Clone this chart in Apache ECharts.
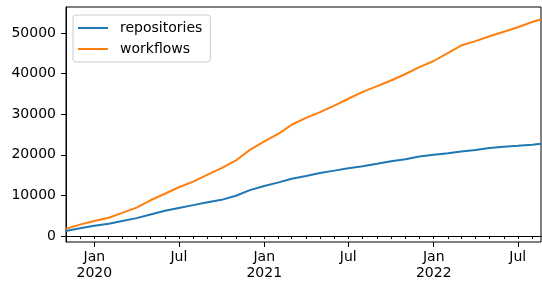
<!DOCTYPE html>
<html>
<head>
<meta charset="utf-8">
<script src="https://cdn.jsdelivr.net/npm/echarts@6/dist/echarts.min.js"></script>
<style>
  html, body { margin: 0; padding: 0; background: #fff; }
  #myChart { width: 542px; height: 281px; }
</style>
</head>
<body>
<div id="myChart"></div>
<script>
// monthly samples
let dates = [
  "2019-11-01", "2019-12-01",
  "2020-01-01", "2020-02-01", "2020-03-01", "2020-04-01", "2020-05-01", "2020-06-01",
  "2020-07-01", "2020-08-01", "2020-09-01", "2020-10-01", "2020-11-01", "2020-12-01",
  "2021-01-01", "2021-02-01", "2021-03-01", "2021-04-01", "2021-05-01", "2021-06-01",
  "2021-07-01", "2021-08-01", "2021-09-01", "2021-10-01", "2021-11-01", "2021-12-01",
  "2022-01-01", "2022-02-01", "2022-03-01", "2022-04-01", "2022-05-01", "2022-06-01",
  "2022-07-01", "2022-08-01", "2022-08-20"
];
let repositories = [
  1230, 1900,
  2500, 3000, 3700, 4400, 5300, 6200,
  6900, 7600, 8300, 8900, 9900, 11300,
  12300, 13200, 14100, 14800, 15500, 16100,
  16700, 17200, 17800, 18400, 18900, 19600,
  20000, 20400, 20800, 21200, 21700, 21950,
  22200, 22500, 22730
];
let workflows = [
  1800, 2800,
  3700, 4500, 5700, 7000, 8800, 10400,
  12000, 13400, 15100, 16700, 18600, 21200,
  23300, 25200, 27400, 29100, 30500, 32100,
  33800, 35500, 36900, 38300, 39900, 41600,
  43100, 45100, 46900, 48000, 49200, 50300,
  51400, 52700, 53400
];
let yTicks = [0, 10000, 20000, 30000, 40000, 50000];
let xMin = Date.parse("2019-11-01");
let xMax = Date.parse("2022-08-20");

let monthTicks = [];
for (let y = 2019; y <= 2022; y++) {
  for (let m = 1; m <= 12; m++) {
    let t = Date.UTC(y, m - 1, 1);
    if (t >= xMin && t <= xMax) monthTicks.push(t);
  }
}
let majorTicks = ["2020-01-01", "2020-07-01", "2021-01-01", "2021-07-01", "2022-01-01", "2022-07-01"]
  .map(d => Date.parse(d));

let font = "DejaVu Sans";

let myChart = echarts.init(document.getElementById("myChart"));

let option = {
  animation: false,
  grid: {
    left: 66, right: 1, top: 7, bottom: 39,
    outerBoundsMode: "none",
    show: true, borderColor: "#000", borderWidth: 1
  },
  legend: {
    data: ["repositories", "workflows"],
    orient: "vertical",
    left: 73, top: 15,
    padding: [6, 8, 6, 5],
    itemGap: 7,
    itemWidth: 30,
    itemHeight: 2,
    icon: "rect",
    borderColor: "#cccccc",
    borderWidth: 1,
    borderRadius: 3,
    backgroundColor: "rgba(255,255,255,0.8)",
    textStyle: { fontFamily: font, fontSize: 14, color: "#000", padding: [0, 0, 0, 7] }
  },
  xAxis: [
    {
      type: "value", min: xMin, max: xMax, position: "bottom",
      axisLine: { show: true, lineStyle: { color: "#000", width: 1 } },
      axisTick: { show: true, length: 3, customValues: monthTicks, lineStyle: { color: "#000" } },
      axisLabel: { show: false },
      splitLine: { show: false }
    },
    {
      type: "value", min: xMin, max: xMax, position: "bottom",
      axisLine: { show: false },
      axisTick: { show: true, length: 5, customValues: majorTicks, lineStyle: { color: "#000" } },
      axisLabel: {
        customValues: majorTicks,
        margin: 7,
        fontFamily: font, fontSize: 14, color: "#000", lineHeight: 16,
        formatter: function (v) {
          let d = new Date(v);
          return d.getUTCMonth() === 0 ? "Jan\n" + d.getUTCFullYear() : "Jul";
        }
      },
      splitLine: { show: false }
    }
  ],
  yAxis: {
    type: "value", min: -1480, max: 56400,
    axisLine: { show: true, lineStyle: { color: "#000", width: 1 } },
    axisTick: { show: true, length: 5, customValues: yTicks, lineStyle: { color: "#000" } },
    axisLabel: {
      customValues: yTicks, margin: 10, fontFamily: font, fontSize: 14, color: "#000",
      formatter: v => String(v)
    },
    splitLine: { show: false }
  },
  series: [
    {
      name: "repositories", type: "line", showSymbol: false, symbol: "none",
      color: "#1f77b4", lineStyle: { width: 2 },
      data: dates.map((d, i) => [Date.parse(d), repositories[i]])
    },
    {
      name: "workflows", type: "line", showSymbol: false, symbol: "none",
      color: "#ff7f0e", lineStyle: { width: 2 },
      data: dates.map((d, i) => [Date.parse(d), workflows[i]])
    }
  ]
};

myChart.setOption(option);
</script>
</body>
</html>
